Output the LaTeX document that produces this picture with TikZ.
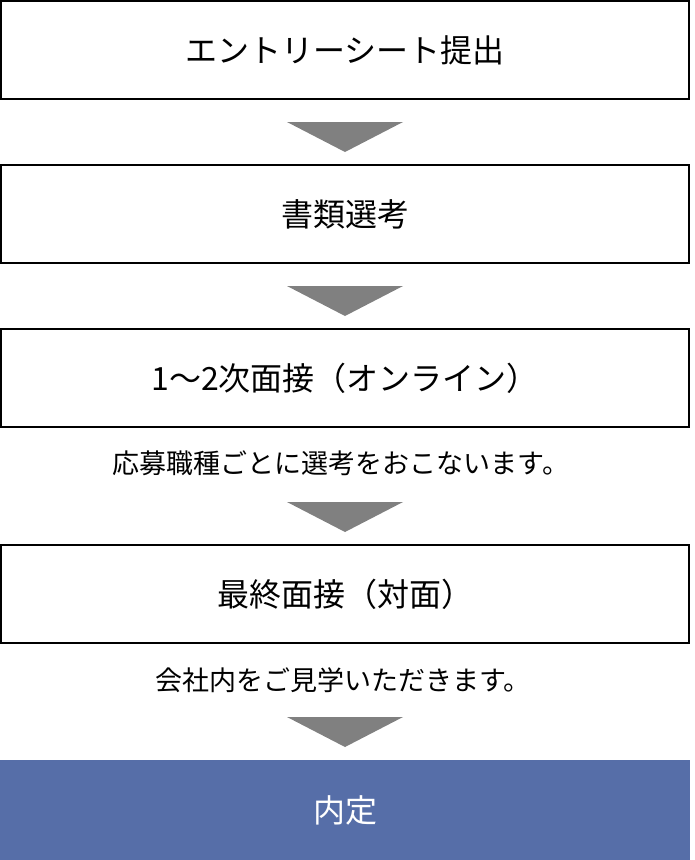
\documentclass[tikz,border=0pt]{standalone}
\usepackage{fontspec}
\setmainfont{Noto Sans CJK JP}
\usetikzlibrary{positioning, calc}

\definecolor{final_blue}{RGB}{86,110,168}
\definecolor{arrow_gray}{RGB}{128,128,128}

\begin{document}
\begin{tikzpicture}[x=1pt, y=-1pt,
step_square/.style={rectangle, draw=black, fill=white, line width=2pt, inner sep=0pt, minimum width=688pt, minimum height=98pt, font=\fontsize{32}{38}\selectfont},
final_square/.style={rectangle, fill=final_blue, text=white, inner sep=0pt, minimum width=690pt, minimum height=100pt, font=\fontsize{32}{38}\selectfont},
note_text/.style={inner sep=0pt, font=\fontsize{27}{32}\selectfont},
down_arrow/.style={fill=arrow_gray}
]
\useasboundingbox (0,0) rectangle (694,860);

% \node[type](name_of_node) at (x,y) {node_text}

\node[step_square](entry) at (345,50) {エントリーシート提出};
\node[step_square](documents) at (345,214) {書類選考};
\node[step_square](online) at (345,378) {1〜2次面接（オンライン）};
\node[note_text](online_note) at (341,463) {応募職種ごとに選考をおこないます。};
\node[step_square](final_interview) at (345,594) {最終面接（対面）};
\node[note_text](final_note) at (343,680) {会社内をご見学いただきます。};
\node[final_square](offer) at (345,810) {内定};

% \fill[down_arrow](corner) -- (corner) -- (tip) -- cycle;

\coordinate (tip1) at (345,152);
\coordinate (tip2) at (345,316);
\coordinate (tip3) at (345,532);
\coordinate (tip4) at (345,747);

\fill[down_arrow] ($(tip1)+(-58,-30)$) -- ($(tip1)+(58,-30)$) -- (tip1) -- cycle;
\fill[down_arrow] ($(tip2)+(-58,-30)$) -- ($(tip2)+(58,-30)$) -- (tip2) -- cycle;
\fill[down_arrow] ($(tip3)+(-58,-30)$) -- ($(tip3)+(58,-30)$) -- (tip3) -- cycle;
\fill[down_arrow] ($(tip4)+(-58,-30)$) -- ($(tip4)+(58,-30)$) -- (tip4) -- cycle;

\end{tikzpicture}
\end{document}
